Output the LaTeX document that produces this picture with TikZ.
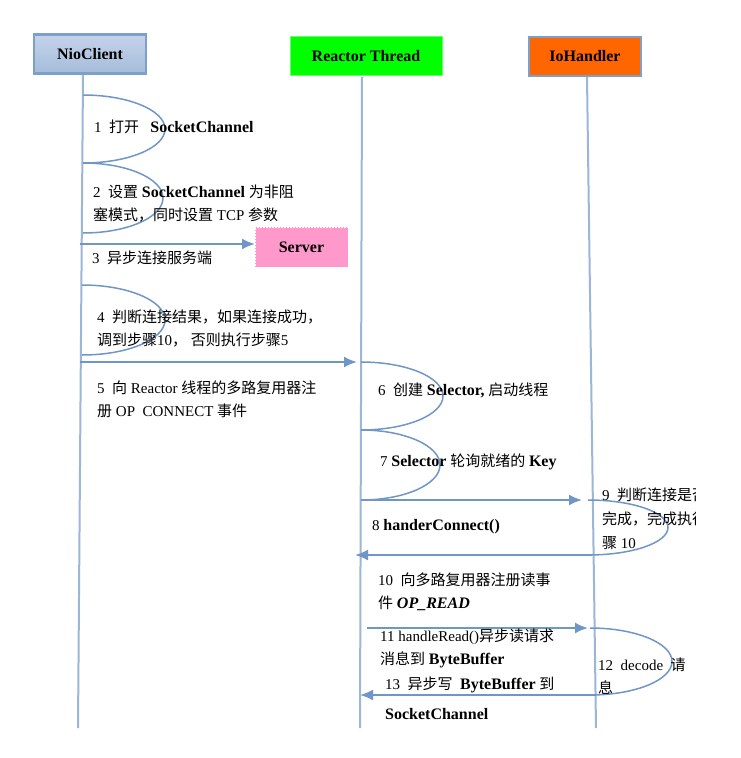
\documentclass[tikz,border=0pt]{standalone}
\usepackage{fontspec}
\setmainfont{Liberation Serif}
\newfontfamily\cjk{Noto Sans CJK SC}
\newcommand\zh[1]{{\cjk #1}}
\newcommand\kw[1]{{\fontsize{16}{23}\selectfont\bfseries #1}}
\usetikzlibrary{arrows.meta,positioning}
\definecolor{msgblue}{RGB}{112,150,200}
\definecolor{lifeblue}{RGB}{155,182,215}
\definecolor{headedge}{RGB}{125,160,200}
\definecolor{serverpink}{RGB}{255,153,204}
\begin{document}
\begin{tikzpicture}[x=1pt,y=-1pt,
    font=\fontsize{15}{23}\selectfont,
    head/.style={draw=headedge,line width=2.5pt,minimum height=39pt,inner sep=0pt,font=\fontsize{16}{18}\selectfont\bfseries},
    life/.style={lifeblue,line width=2pt},
    msg/.style={msgblue,line width=2pt,-{Latex[length=13pt,width=11pt]}},
    selfloop/.style={msgblue,line width=1.5pt},
    lbl/.style={anchor=west,inner sep=0pt,align=left}]
    \useasboundingbox (0,0) rectangle (740,758);
    % heads and lifelines
    \node[head,top color=blue!10!headedge!40,bottom color=headedge!70,minimum width=112pt] (client) at (90,54) {NioClient};
    \node[head,fill=green,draw=green!60,line width=1pt,minimum width=152pt] (reactor) at (366,56) {Reactor Thread};
    \node[head,fill=orange!80!red,minimum width=112pt] (io) at (585,56.5) {IoHandler};
    \coordinate (client top) at (83,75);   \coordinate (client end) at (78,728);
    \coordinate (reactor top) at (362,77); \coordinate (reactor end) at (360,728);
    \coordinate (io top) at (587,77);      \coordinate (io end) at (596,728);
    \draw[life] (client top) -- (client end);
    \draw[life] (reactor top) -- (reactor end);
    \draw[life] (io top) -- (io end);
    % self calls
    \foreach \x/\y/\rx/\ry in {83/95/82/34, 83/163/80/35, 82/285/83/35,
        361/362/82/34, 361/430/79/35, 588/500/80/27.5, 590/628/82/33.5}
        \draw[selfloop] (\x,\y) arc[start angle=-90,end angle=90,x radius=\rx,y radius=\ry];
    % server
    \node[draw=magenta!40,dotted,line width=1pt,fill=serverpink,minimum width=92pt,minimum height=39pt,
        font=\fontsize{16}{18}\selectfont\bfseries] (server) at (301.5,247) {Server};
    % messages
    \coordinate (c3) at (80,244);
    \coordinate (c5) at (80,362);   \coordinate (r5) at (357,362);
    \coordinate (r8) at (361,500);  \coordinate (i8) at (582,500);
    \coordinate (i9) at (592,555);  \coordinate (r9) at (355,555);
    \coordinate (r11) at (367,628); \coordinate (i11) at (588,628);
    \coordinate (i13) at (596,695); \coordinate (r13) at (360,695);
    \draw[msg] (c3) -- (c3 -| server.west);
    \draw[msg] (c5) -- (r5);
    \draw[msg] (r8) -- (i8);
    \draw[msg] (i9) -- (r9);
    \draw[msg] (r11) -- (i11);
    \draw[msg] (i13) -- (r13);
    % labels
    \node[lbl] (t1) at (94,127) {1\ \ \zh{打开}\ \ \ \kw{SocketChannel}};
    \node[lbl] (t2) at (93,204) {2\ \ \zh{设置} \kw{SocketChannel} \zh{为非阻}\\\zh{塞模式，同时设置} TCP \zh{参数}};
    \node[lbl] (t3) at (92,258) {3\ \ \zh{异步连接服务端}};
    \node[lbl] (t4) at (97,328.5) {4\ \ \zh{判断连接结果，如果连接成功，}\\\zh{调到步骤}10\zh{，}\ \zh{否则执行步骤}5};
    \node[lbl] (t5) at (97,399.5) {5\ \ \zh{向} Reactor \zh{线程的多路复用器注}\\\zh{册} OP\ \ CONNECT \zh{事件}};
    \node[lbl] (t6) at (378,390) {6\ \ \zh{创建} \kw{Selector,} \zh{启动线程}};
    \node[lbl] (t7) at (380,462) {7 \kw{Selector} \zh{轮询就绪的} \kw{Key}};
    \node[lbl] (t8) at (372,527) {8 \kw{handerConnect()}};
    \begin{scope}
        \clip (595,470) rectangle (695,560);
        \node[lbl,font=\fontsize{15}{24}\selectfont] (t9) at (602,519) {9\ \ \zh{判断连接是否}\\\zh{完成，完成执行步}\\\zh{骤} 10};
    \end{scope}
    \node[lbl] (t10) at (378,591.5) {10\ \ \zh{向多路复用器注册读事}\\\zh{件} \kw{\itshape OP\_READ}};
    \node[lbl] (t11) at (380,648.5) {11 handleRead()\zh{异步读请求}\\\zh{消息到} \kw{ByteBuffer}};
    \node[lbl] (t12) at (598,676) {12\ \ decode\ \ \zh{请}\\\zh{息}};
    \node[lbl] (t13) at (385,685) {13\ \ \zh{异步写}\ \ \kw{ByteBuffer} \zh{到}};
    \node[lbl] (t14) at (385,714) {\kw{SocketChannel}};
\end{tikzpicture}
\end{document}
